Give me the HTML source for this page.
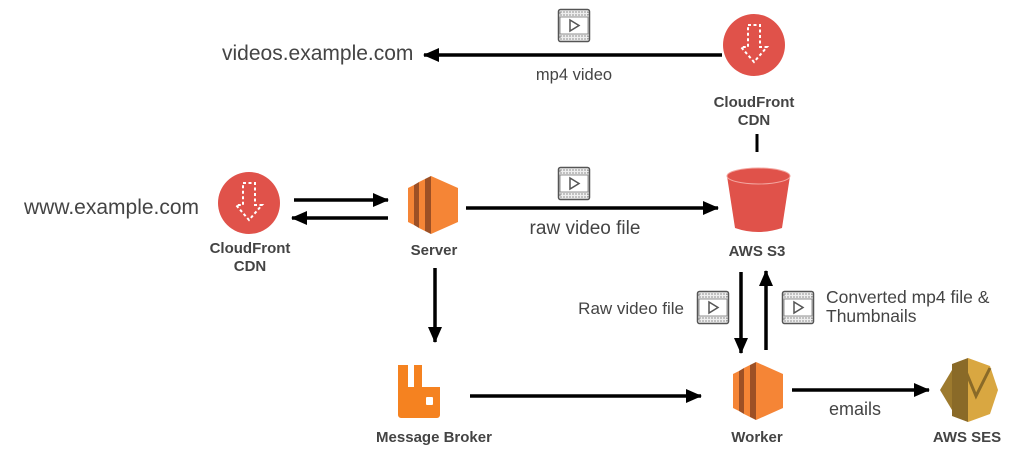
<!DOCTYPE html>
<html><head><meta charset="utf-8"><style>
html,body{margin:0;padding:0;background:#fff;}
svg{display:block;font-family:"Liberation Sans",Arial,sans-serif;}
.b{font-weight:bold;font-size:15px;fill:#444;text-anchor:middle}
.t{fill:#444}
</style></head><body>
<svg width="1024" height="473" viewBox="0 0 1024 473" xmlns="http://www.w3.org/2000/svg">
<defs>
<marker id="ah" markerWidth="16" markerHeight="14" refX="15" refY="7" orient="auto" markerUnits="userSpaceOnUse" viewBox="0 0 16 14">
<path d="M0,0 L16,7 L0,14 z" fill="#000"/></marker>
<g id="vid">
<rect x="0.5" y="0.5" width="31" height="32" rx="2" fill="#eee" stroke="#555" stroke-width="1.5"/>
<rect x="2" y="3" width="28" height="3" fill="none" stroke="#777" stroke-width="0.8" stroke-dasharray="2,1"/>
<rect x="2" y="27" width="28" height="3" fill="none" stroke="#777" stroke-width="0.8" stroke-dasharray="2,1"/>
<rect x="2" y="8" width="28" height="17" fill="#fff" stroke="#777" stroke-width="0.8"/>
<path d="M12,11 L21,16.5 L12,22 z" fill="none" stroke="#555" stroke-width="1.5"/>
</g>
<g id="cf">
<circle cx="0" cy="0" r="31" fill="#e0524a"/>
<path d="M-6,-20 L6,-20 L6,2 L13,2 L0,17 L-13,2 L-6,2 z" fill="none" stroke="#fff" stroke-width="2" stroke-dasharray="3,2.5"/>
</g>
<g id="ec2">
<path d="M23,0 L50,12 L50,46 L23,58 z" fill="#f58536"/>
<path d="M17,3 L23,0 L23,58 L17,55 z" fill="#9d5025"/>
<path d="M11,6 L17,3 L17,55 L11,52 z" fill="#f58536"/>
<path d="M6,9 L11,6 L11,52 L6,49 z" fill="#9d5025"/>
<path d="M0,12 L6,9 L6,49 L0,46 z" fill="#f58536"/>
</g>
</defs>

<text x="222" y="60" font-size="21" class="t">videos.example.com</text>
<line x1="722" y1="55" x2="424" y2="55" stroke="#000" stroke-width="3.5" marker-end="url(#ah)"/>
<use href="#vid" x="558" y="9"/>
<text x="574" y="80" font-size="16.5" class="t" text-anchor="middle">mp4 video</text>
<use href="#cf" x="754" y="45"/>
<text x="754" y="107" class="b">CloudFront</text>
<text x="754" y="125" class="b">CDN</text>
<line x1="757" y1="134" x2="757" y2="152" stroke="#000" stroke-width="3"/>

<text x="24" y="214" font-size="21" class="t">www.example.com</text>
<use href="#cf" x="249" y="203"/>
<text x="250" y="253" class="b">CloudFront</text>
<text x="250" y="271" class="b">CDN</text>
<line x1="294" y1="200" x2="388" y2="200" stroke="#000" stroke-width="3.5" marker-end="url(#ah)"/>
<line x1="388" y1="218" x2="292" y2="218" stroke="#000" stroke-width="3.5" marker-end="url(#ah)"/>
<use href="#ec2" x="408" y="176"/>
<text x="434" y="255" class="b" font-size="17">Server</text>
<line x1="466" y1="208" x2="718" y2="208" stroke="#000" stroke-width="3.5" marker-end="url(#ah)"/>
<use href="#vid" x="558" y="167"/>
<text x="585" y="234" font-size="19" class="t" text-anchor="middle">raw video file</text>

<path d="M727,176 L790,176 L782,228 Q758,236 735,228 z" fill="#e0524a"/>
<ellipse cx="758.5" cy="176" rx="31.5" ry="8" fill="#e0524a" stroke="#f3a59f" stroke-width="1"/>
<text x="757" y="256" class="b">AWS S3</text>

<line x1="741" y1="272" x2="741" y2="353" stroke="#000" stroke-width="3.5" marker-end="url(#ah)"/>
<line x1="766" y1="350" x2="766" y2="271" stroke="#000" stroke-width="3.5" marker-end="url(#ah)"/>
<use href="#vid" x="697" y="291"/>
<use href="#vid" x="782" y="291"/>
<text x="684" y="314" font-size="17" class="t" text-anchor="end">Raw video file</text>
<text x="826" y="303" font-size="17.5" class="t">Converted mp4 file &amp;</text>
<text x="826" y="322" font-size="17.5" class="t">Thumbnails</text>

<line x1="435" y1="268" x2="435" y2="342" stroke="#000" stroke-width="3.5" marker-end="url(#ah)"/>

<path d="M398,365 h10 v22 h6 v-22 h8 v22 h18 v28 a3,3 0 0 1 -3,3 h-36 a3,3 0 0 1 -3,-3 z" fill="#f58220"/>
<rect x="426" y="397" width="7" height="8" rx="1" fill="#fff"/>
<text x="434" y="442" class="b" font-size="14.5">Message Broker</text>
<line x1="470" y1="396" x2="701" y2="396" stroke="#000" stroke-width="3.5" marker-end="url(#ah)"/>
<use href="#ec2" x="733" y="362"/>
<text x="757" y="442" class="b" font-size="17.5">Worker</text>
<line x1="792" y1="390" x2="929" y2="390" stroke="#000" stroke-width="3.5" marker-end="url(#ah)"/>
<text x="855" y="415" font-size="18" class="t" text-anchor="middle">emails</text>
<path d="M940,390 L952,370 L952,410 z" fill="#9d7a2e"/>
<path d="M952,364 L968,358 L968,422 L952,416 z" fill="#8a6a28"/>
<path d="M968,358 L990,366 L998,390 L990,414 L968,422 z" fill="#d9a741"/>
<path d="M962,362 L976,396 L990,368" fill="none" stroke="#8a6a28" stroke-width="3"/>
<text x="967" y="442" class="b">AWS SES</text>
</svg>
</body></html>
